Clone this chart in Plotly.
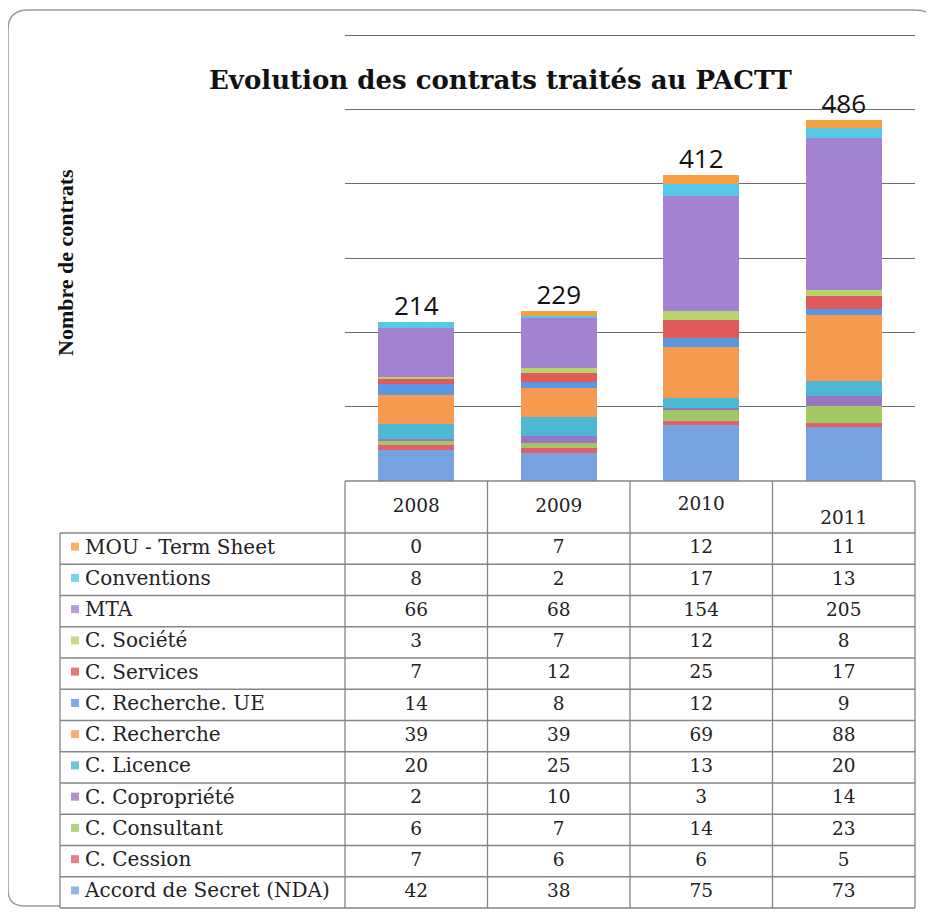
import plotly.graph_objects as go

years = ["2008", "2009", "2010", "2011"]
series = ["MOU - Term Sheet", "Conventions", "MTA", "C. Société", "C. Services",
          "C. Recherche. UE", "C. Recherche", "C. Licence", "C. Copropriété",
          "C. Consultant", "C. Cession", "Accord de Secret (NDA)"]
mou = [0, 7, 12, 11]
conventions = [8, 2, 17, 13]
mta = [66, 68, 154, 205]
societe = [3, 7, 12, 8]
services = [7, 12, 25, 17]
recherche_ue = [14, 8, 12, 9]
recherche = [39, 39, 69, 88]
licence = [20, 25, 13, 20]
copropriete = [2, 10, 3, 14]
consultant = [6, 7, 14, 23]
cession = [7, 6, 6, 5]
nda = [42, 38, 75, 73]
values = [mou, conventions, mta, societe, services, recherche_ue, recherche,
          licence, copropriete, consultant, cession, nda]
colors = ["#f5a142", "#56c8e8", "#a383d1", "#b5d66a", "#e05a5a", "#5b97e0",
          "#f59a4f", "#4db7d6", "#9877c0", "#a3c765", "#e0606e", "#79a2e2"]
title = "Evolution des contrats traités au PACTT"
ytitle = "Nombre de contrats"

# the page body has an 8px margin: work in window pixels, convert to figure
OFF = 8
W, H = 934 - OFF, 912 - OFF
px = lambda x: (x - OFF) / W
py = lambda y: 1 - (y - OFF) / H

# geometry (window pixels)
plot_l, plot_r, plot_b = 345, 915, 481
scale = (481 - 35) / 600.0
y_max = 602
plot_t = plot_b - y_max * scale
tab_l, tab_top, head_h, row_h = 60, 481, 52, 31.25
col_edges = [345 + i * (plot_r - 345) / 4 for i in range(5)]
grid_col = "#858585"
SERIF = "DejaVu Serif"

fig = go.Figure()

# stacked bars: bottom series is last in table order
for name, vals, col in reversed(list(zip(series, values, colors))):
    fig.add_trace(go.Bar(x=years, y=vals, name=name, marker=dict(color=col, line=dict(width=0)),
                         xaxis="x", yaxis="y", showlegend=False, hoverinfo="x+y+name"))

totals = [sum(v[i] for v in values) for i in range(len(years))]
fig.add_trace(go.Scatter(x=years, y=totals, mode="text", text=[str(t) for t in totals],
                         textposition="top center", textfont=dict(family="Open Sans", size=26, color="#111"),
                         xaxis="x", yaxis="y", showlegend=False, hoverinfo="skip", cliponaxis=False))

# table: pixel-space axes covering whole figure
row_centers = [tab_top + head_h + row_h * (i + 0.5) for i in range(len(series))]
col_centers = [(col_edges[i] + col_edges[i + 1]) / 2 for i in range(4)]
head_y = [tab_top + 26, tab_top + 26, tab_top + 24, tab_top + 38]

fig.add_trace(go.Scatter(x=col_centers, y=head_y, mode="text", text=years,
                         textfont=dict(family=SERIF, size=18.5, color="#222"),
                         xaxis="x2", yaxis="y2", showlegend=False, hoverinfo="skip"))
for j in range(4):
    fig.add_trace(go.Scatter(x=[col_centers[j]] * len(series), y=row_centers, mode="text",
                             text=[str(v[j]) for v in values],
                             textfont=dict(family=SERIF, size=18.5, color="#222"),
                             xaxis="x2", yaxis="y2", showlegend=False, hoverinfo="skip"))
fig.add_trace(go.Scatter(x=[85] * len(series), y=row_centers, mode="text", text=series,
                         textposition="middle right",
                         textfont=dict(family=SERIF, size=20, color="#222"),
                         xaxis="x2", yaxis="y2", showlegend=False, hoverinfo="skip"))
fig.add_trace(go.Scatter(x=[75] * len(series), y=[r - 2 for r in row_centers], mode="markers",
                         marker=dict(symbol="square", size=8, color=colors, opacity=0.8),
                         xaxis="x2", yaxis="y2", showlegend=False, hoverinfo="skip"))

shapes = []
# frame
shapes.append(dict(type="path", xref="paper", yref="paper",
                   path=f"M {px(933)},{py(40)} L {px(933)},{py(24)} Q {px(933)},{py(10)} {px(915)},{py(10)} "
                        f"L {px(28)},{py(10)} Q {px(8)},{py(10)} {px(8)},{py(30)} "
                        f"L {px(8)},{py(890)} Q {px(8)},{py(906)} {px(24)},{py(906)} L {px(60)},{py(906)}",
                   line=dict(color="#9a9a9a", width=1.5)))
# table lines
bottom = tab_top + head_h + row_h * len(series)
shapes.append(dict(type="line", xref="paper", yref="paper", x0=px(345), x1=px(plot_r),
                   y0=py(tab_top), y1=py(tab_top), line=dict(color=grid_col, width=1.3)))
for k in range(len(series) + 1):
    yy = tab_top + head_h + row_h * k
    shapes.append(dict(type="line", xref="paper", yref="paper", x0=px(tab_l), x1=px(plot_r),
                       y0=py(yy), y1=py(yy), line=dict(color=grid_col, width=1.3)))
for xe in col_edges:
    shapes.append(dict(type="line", xref="paper", yref="paper", x0=px(xe), x1=px(xe),
                       y0=py(tab_top), y1=py(bottom), line=dict(color=grid_col, width=1.3)))
shapes.append(dict(type="line", xref="paper", yref="paper", x0=px(tab_l), x1=px(tab_l),
                   y0=py(tab_top + head_h), y1=py(bottom), line=dict(color=grid_col, width=1.3)))

annotations = [
    dict(text=f"<b>{title}</b>", x=px(501), y=py(80), xref="paper", yref="paper",
         xanchor="center", yanchor="middle",
         showarrow=False, font=dict(family=SERIF, size=26, color="#111")),
    dict(text=f"<b>{ytitle}</b>", x=px(66), y=py(262), xref="paper", yref="paper",
         xanchor="center", yanchor="middle",
         showarrow=False, textangle=-90, font=dict(family="Liberation Serif", size=22, color="#111")),
]

fig.update_layout(
    width=W, height=H, margin=dict(l=0, r=0, t=0, b=0),
    paper_bgcolor="white", plot_bgcolor="rgba(0,0,0,0)",
    barmode="stack", bargap=0.47,
    xaxis=dict(domain=[px(plot_l), px(plot_r)], showticklabels=False, showgrid=False,
               zeroline=False, showline=False, ticks=""),
    yaxis=dict(domain=[py(plot_b), py(plot_t)], range=[0, y_max], tick0=0, dtick=100,
               showticklabels=False, showgrid=True, gridcolor="#6e6e6e", gridwidth=1,
               zeroline=False, showline=False, ticks=""),
    xaxis2=dict(domain=[0, 1], range=[0 + OFF, W + OFF], visible=False, anchor="y2"),
    yaxis2=dict(domain=[0, 1], range=[H + OFF, OFF], visible=False, anchor="x2"),
    shapes=shapes, annotations=annotations,
)

fig.write_html("out.html")
